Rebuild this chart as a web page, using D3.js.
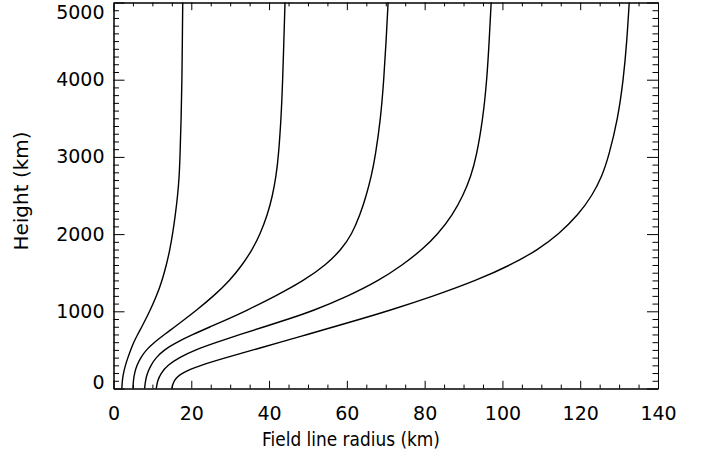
<!DOCTYPE html>
<html>
<head>
<meta charset="utf-8">
<script src="https://cdn.jsdelivr.net/npm/d3@7"></script>
<style>
  html, body { margin: 0; padding: 0; background: #fff; }
  svg { display: block; }
  text { font-family: "DejaVu Sans", sans-serif; fill: #000; }
</style>
</head>
<body>
<svg id="chart" width="707" height="459"></svg>
<script>
// Heights (km) at which each field line radius is sampled
const heights = [0, 100, 200, 300, 400, 500, 600, 700, 800, 900, 1000, 1200, 1400,
                 1600, 1800, 2000, 2250, 2500, 2750, 3000, 3500, 4000, 4500, 5000];

// Field line radius (km) for five field lines, footpoints from the inner to the outer one
const radii1 = [2.15, 2.25, 2.55, 3.05, 3.7, 4.4, 5.2, 6.2, 7.3, 8.3, 9.3, 11.1, 12.5,
                13.6, 14.5, 15.2, 15.9, 16.5, 16.9, 17.1, 17.4, 17.6, 17.7, 17.8];
const radii2 = [5.0, 5.1, 5.4, 6.0, 7.0, 8.4, 10.5, 13.1, 15.8, 18.4, 21.0, 25.8, 29.9,
                33.1, 35.7, 37.7, 39.6, 40.9, 41.8, 42.4, 43.1, 43.5, 43.8, 44.1];
const radii3 = [8.0, 8.2, 8.7, 9.6, 10.9, 13.0, 16.3, 20.4, 24.9, 29.4, 33.8, 41.8, 49.0,
                54.6, 58.6, 61.3, 63.4, 65.0, 66.3, 67.3, 68.7, 69.5, 70.1, 70.6];
const radii4 = [11.0, 11.3, 12.2, 13.9, 16.8, 21.0, 26.6, 32.6, 38.8, 45.0, 51.0, 60.5, 68.3,
                74.3, 79.4, 83.4, 87.2, 89.9, 91.9, 93.3, 95.0, 96.0, 96.6, 97.1];
const radii5 = [15.0, 15.4, 17.3, 22.3, 28.9, 35.9, 43.0, 49.8, 56.7, 63.6, 70.3, 82.5, 93.3,
                102.2, 109.2, 114.5, 119.5, 123.1, 125.6, 127.3, 129.7, 131.1, 132.0, 132.6];

// Axis ticks
const xMajorTicks = [0, 20, 40, 60, 80, 100, 120, 140];
const yMajorTicks = [0, 1000, 2000, 3000, 4000, 5000];

const xTitle = "Field line radius (km)";
const yTitle = "Height (km)";

const svg = d3.select("#chart");

const x = d3.scaleLinear().domain([0, 140]).range([113.5, 658]);
const y = d3.scaleLinear().domain([0, 5000]).range([388.5, 2.5]);

const xMinorTicks = d3.range(0, 141, 5).filter(v => v % 20 !== 0);
const yMinorTicks = d3.range(0, 5001, 100).filter(v => v % 1000 !== 0);

const xMajorLen = 7.7, xMinorLen = 3.9, yMajorLen = 11, yMinorLen = 5.5;
const fontSize = 19;

function styleAxis(g) {
  g.selectAll("path.domain").attr("stroke", "#000").attr("stroke-width", 1);
  g.selectAll(".tick line").attr("stroke", "#000").attr("stroke-width", 1);
  g.selectAll(".tick text").attr("font-size", fontSize)
    .attr("font-family", "DejaVu Sans, sans-serif").attr("fill", "#000");
}

// Bottom axis (labelled) and minor ticks
svg.append("g").attr("transform", `translate(0,${y(0)})`)
  .call(d3.axisBottom(x).tickValues(xMajorTicks).tickFormat(d3.format("d"))
    .tickSize(-xMajorLen).tickSizeOuter(0).tickPadding(18))
  .call(styleAxis);
svg.append("g").attr("transform", `translate(0,${y(0)})`)
  .call(d3.axisBottom(x).tickValues(xMinorTicks).tickFormat("")
    .tickSize(-xMinorLen).tickSizeOuter(0))
  .call(styleAxis);

// Top axis, ticks only
svg.append("g").attr("transform", `translate(0,${y(5000)})`)
  .call(d3.axisTop(x).tickValues(xMajorTicks).tickFormat("")
    .tickSize(-xMajorLen).tickSizeOuter(0))
  .call(styleAxis);
svg.append("g").attr("transform", `translate(0,${y(5000)})`)
  .call(d3.axisTop(x).tickValues(xMinorTicks).tickFormat("")
    .tickSize(-xMinorLen).tickSizeOuter(0))
  .call(styleAxis);

// Left axis (labelled) and minor ticks
const leftAxis = svg.append("g").attr("transform", `translate(${x(0)},0)`)
  .call(d3.axisLeft(y).tickValues(yMajorTicks).tickFormat(d3.format("d"))
    .tickSize(-yMajorLen).tickSizeOuter(0).tickPadding(9))
  .call(styleAxis);
svg.append("g").attr("transform", `translate(${x(0)},0)`)
  .call(d3.axisLeft(y).tickValues(yMinorTicks).tickFormat("")
    .tickSize(-yMinorLen).tickSizeOuter(0))
  .call(styleAxis);

// Keep the end labels inside the frame's height
leftAxis.selectAll(".tick text")
  .attr("y", d => d === 0 ? -6.5 : (d === 5000 ? 9.5 : 0));

// Right axis, ticks only
svg.append("g").attr("transform", `translate(${x(140)},0)`)
  .call(d3.axisRight(y).tickValues(yMajorTicks).tickFormat("")
    .tickSize(-yMajorLen).tickSizeOuter(0))
  .call(styleAxis);
svg.append("g").attr("transform", `translate(${x(140)},0)`)
  .call(d3.axisRight(y).tickValues(yMinorTicks).tickFormat("")
    .tickSize(-yMinorLen).tickSizeOuter(0))
  .call(styleAxis);

// Field lines
const line = d3.line()
  .x(d => x(d[0]))
  .y(d => y(d[1]))
  .curve(d3.curveBasis);

[radii1, radii2, radii3, radii4, radii5].forEach(radii => {
  svg.append("path")
    .datum(radii.map((r, i) => [r, heights[i]]))
    .attr("d", line)
    .attr("fill", "none")
    .attr("stroke", "#000")
    .attr("stroke-width", 1.4);
});

// Axis titles
svg.append("text")
  .attr("x", 351).attr("y", 446)
  .attr("text-anchor", "middle")
  .attr("font-size", 19)
  .attr("textLength", 178).attr("lengthAdjust", "spacingAndGlyphs")
  .text(xTitle);

svg.append("text")
  .attr("transform", "translate(28,191) rotate(-90)")
  .attr("text-anchor", "middle")
  .attr("font-size", 19)
  .attr("textLength", 119).attr("lengthAdjust", "spacingAndGlyphs")
  .text(yTitle);
</script>
</body>
</html>
